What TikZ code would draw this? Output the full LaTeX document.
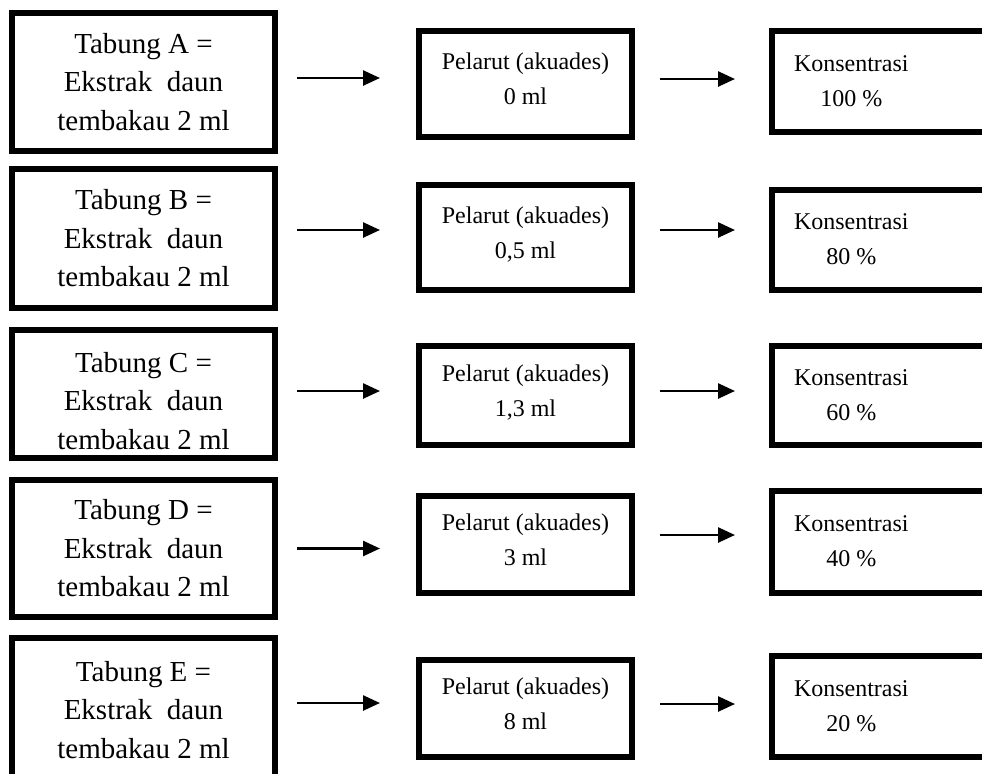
\documentclass[tikz,border=0pt]{standalone}
\usepackage{fontspec}
\setmainfont{Liberation Serif}
\usepackage{tikz}
\usetikzlibrary{arrows.meta, positioning}
\tikzset{
    tabung/.style={rectangle, draw=black, line width=2.8pt, minimum width=131.5pt,
        inner sep=2pt, align=center, font=\fontsize{14.5}{19.25}\selectfont},
    pelarut/.style={rectangle, draw=black, line width=2.8pt, minimum width=106.5pt,
        inner sep=2pt, align=center, font=\fontsize{12}{17.5}\selectfont},
    konsen/.style={rectangle, draw=black, line width=2.8pt, inner xsep=11pt,
        inner ysep=2pt, font=\fontsize{12}{17.5}\selectfont},
    arrow/.style={-{Triangle[length=8.5pt, width=7.5pt]}, line width=1.3pt}
}
\newcommand{\kons}[1]{\begin{tabular}{@{}c@{}}Konsentrasi\\#1\end{tabular}\hspace*{120pt}}
\newcommand{\pel}[1]{Pelarut (akuades)\\#1\rule[-5pt]{0pt}{0pt}}

\begin{document}
\begin{tikzpicture}

    \useasboundingbox (0,0) rectangle (491pt,-386.5pt);

    \node[tabung, minimum height=69pt] (tabA) at (71.75pt,-41pt) {Tabung A =\\Ekstrak~ daun\\tembakau 2 ml};
    \node[tabung, minimum height=69.5pt, below=6.2pt of tabA] (tabB) {Tabung B =\\Ekstrak~ daun\\tembakau 2 ml};
    \node[tabung, minimum height=64pt, below=8.2pt of tabB] (tabC) {\rule{0pt}{17pt}Tabung C =\\Ekstrak~ daun\\tembakau 2 ml};
    \node[tabung, minimum height=68.5pt, below=8.2pt of tabC] (tabD) {Tabung D =\\Ekstrak~ daun\\tembakau 2 ml};
    \node[tabung, minimum height=72pt, below=7.7pt of tabD] (tabE) {Tabung E =\\Ekstrak~ daun\\tembakau 2 ml};

    \node[pelarut, minimum height=53pt, right=69.2pt of tabA, yshift=-1pt] (pelA) {\pel{0 ml}};
    \node[pelarut, minimum height=52.5pt, right=69.2pt of tabB, yshift=0.5pt] (pelB) {\pel{0,5 ml}};
    \node[pelarut, minimum height=49.5pt, right=69.2pt of tabC, yshift=-0.75pt] (pelC) {\pel{1,3 ml}};
    \node[pelarut, minimum height=48.5pt, right=69.2pt of tabD, yshift=2pt] (pelD) {\pel{3 ml}};
    \node[pelarut, minimum height=48.5pt, right=69.2pt of tabE, yshift=0.75pt] (pelE) {\pel{8 ml}};

    \node[konsen, minimum height=50.5pt, right=67.2pt of pelA, yshift=1.25pt] (konA) {\kons{100 \%}};
    \node[konsen, minimum height=50pt, right=67.2pt of pelB, yshift=-1.25pt] (konB) {\kons{80 \%}};
    \node[konsen, minimum height=49.5pt, right=67.2pt of pelC] (konC) {\kons{60 \%}};
    \node[konsen, minimum height=51pt, right=67.2pt of pelD, yshift=1.25pt] (konD) {\kons{40 \%}};
    \node[konsen, minimum height=50.5pt, right=67.2pt of pelE, yshift=1pt] (konE) {\kons{20 \%}};

    \draw[arrow, shorten <=9.6pt, shorten >=18.1pt] ([yshift=2pt]tabA.east) -- ([yshift=2pt]tabA.east -| pelA.west);
    \draw[arrow, shorten <=9.6pt, shorten >=18.1pt] ([yshift=4.25pt]tabB.east) -- ([yshift=4.25pt]tabB.east -| pelB.west);
    \draw[arrow, shorten <=9.6pt, shorten >=18.1pt] ([yshift=1.5pt]tabC.east) -- ([yshift=1.5pt]tabC.east -| pelC.west);
    \draw[arrow, shorten <=9.6pt, shorten >=18.1pt] (tabD.east) -- (tabD.east -| pelD.west);
    \draw[arrow, shorten <=9.6pt, shorten >=18.1pt] ([yshift=3.5pt]tabE.east) -- ([yshift=3.5pt]tabE.east -| pelE.west);

    \draw[arrow, shorten <=12.6pt, shorten >=17.1pt] ([yshift=2.5pt]pelA.east) -- ([yshift=2.5pt]pelA.east -| konA.west);
    \draw[arrow, shorten <=12.6pt, shorten >=17.1pt] ([yshift=3.75pt]pelB.east) -- ([yshift=3.75pt]pelB.east -| konB.west);
    \draw[arrow, shorten <=12.6pt, shorten >=17.1pt] ([yshift=2.25pt]pelC.east) -- ([yshift=2.25pt]pelC.east -| konC.west);
    \draw[arrow, shorten <=12.6pt, shorten >=17.1pt] ([yshift=4.75pt]pelD.east) -- ([yshift=4.75pt]pelD.east -| konD.west);
    \draw[arrow, shorten <=12.6pt, shorten >=17.1pt] ([yshift=2.25pt]pelE.east) -- ([yshift=2.25pt]pelE.east -| konE.west);

\end{tikzpicture}
\end{document}
